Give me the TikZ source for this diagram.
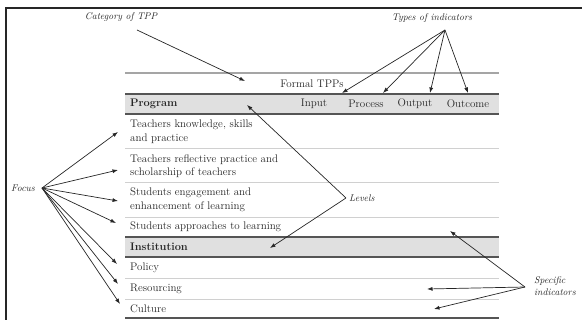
\documentclass[tikz,border=0pt]{standalone}
\usetikzlibrary{arrows.meta}
\definecolor{ink}{HTML}{262626}
\definecolor{band}{HTML}{E0E0E0}
\definecolor{rule}{HTML}{555555}
\definecolor{faint}{HTML}{D0D0D0}
\definecolor{topr}{HTML}{A5A5A5}
\begin{document}
\begin{tikzpicture}[x=1pt,y=-1pt,
  txt/.style={anchor=west,align=left,inner sep=0pt,text=ink,font=\fontsize{11}{13.5}\selectfont},
  hdr/.style={inner sep=0pt,text=ink,font=\fontsize{11}{13.5}\selectfont},
  lab/.style={inner sep=0pt,text=ink,font=\fontsize{9.7}{11.5}\selectfont\itshape},
  arr/.style={draw=ink,line width=0.7pt,-{Latex[length=5.5pt,width=4pt]}},
  darkrule/.style={draw=rule,line width=1.1pt},
  lightrule/.style={draw=faint,line width=0.6pt}]
\useasboundingbox (0,0) rectangle (582,320);
% frame
\draw[draw=ink,line width=1.2pt] (6,320) -- (6,8) -- (582,8);
% bands
\fill[band] (125,94) rectangle (499,114);
\fill[band] (125,237) rectangle (499,257);
% rules
\draw[draw=topr,line width=1.5pt] (125,73) -- (499,73);
\draw[darkrule] (125,94) -- (499,94);
\draw[darkrule] (125,114) -- (499,114);
\draw[lightrule] (125,148) -- (499,148);
\draw[lightrule] (125,182) -- (499,182);
\draw[lightrule] (125,217) -- (499,217);
\draw[darkrule] (125,237) -- (499,237);
\draw[darkrule] (125,257) -- (499,257);
\draw[lightrule] (125,278) -- (499,278);
\draw[lightrule] (125,299) -- (499,299);
\draw[darkrule] (125,318) -- (499,318);
% table text
\node[hdr] (formal) at (312,84) {Formal TPPs};
\node[txt,font=\fontsize{11}{13.5}\selectfont\bfseries] (program) at (130,104) {Program};
\node[hdr] (input) at (314,104) {Input};
\node[hdr] (process) at (366,104) {Process};
\node[hdr] (output) at (415,104) {Output};
\node[hdr] (outcome) at (468,104) {Outcome};
\node[txt] (r1) at (130,132) {Teachers knowledge, skills\\and practice};
\node[txt] (r2) at (130,166) {Teachers reflective practice and\\scholarship of teachers};
\node[txt] (r3) at (130,200) {Students engagement and\\enhancement of learning};
\node[txt] (r4) at (130,227) {Students approaches to learning};
\node[txt,font=\fontsize{11}{13.5}\selectfont\bfseries] (inst) at (130,247) {Institution};
\node[txt] (policy) at (130,268) {Policy};
\node[txt] (resourcing) at (130,289) {Resourcing};
\node[txt] (culture) at (130,309) {Culture};
% labels
\node[lab] (cat) at (121,17) {Category of TPP};
\node[lab] (types) at (432,18) {Types of indicators};
\node[lab,anchor=west] (levels) at (349,198) {Levels};
\node[lab,anchor=west] (focus) at (11,188) {Focus};
\node[lab,anchor=west,align=left] (spec) at (534,286) {Specific\\indicators};
% connector points
\coordinate (catS) at (137,30);
\coordinate (catE) at (245,81);
\coordinate (typS) at (445,30);
\coordinate (tInput) at (342,93);
\coordinate (tProcess) at (383,93);
\coordinate (tOutput) at (430,93);
\coordinate (tOutcome) at (468,93);
\coordinate (levS) at (346,198);
\coordinate (lProg) at (247,105);
\coordinate (lInst) at (270,248);
\coordinate (focS) at (42,188);
\coordinate (f1) at (118,132);
\coordinate (f2) at (118,170);
\coordinate (f3) at (118,201);
\coordinate (f4) at (116,223);
\coordinate (f5) at (117,264);
\coordinate (f6) at (118,284);
\coordinate (f7) at (120,304);
\coordinate (spS) at (525,287);
\coordinate (s1) at (450,231);
\coordinate (s2) at (427,289);
\coordinate (s3) at (434,309);
% arrows
\draw[arr] (catS) -- (catE);
\foreach \t in {tInput,tProcess,tOutput,tOutcome} \draw[arr] (typS) -- (\t);
\draw[arr] (levS) -- (lProg);
\draw[arr] (levS) -- (lInst);
\foreach \t in {f1,f2,f3,f4,f5,f6,f7} \draw[arr] (focS) -- (\t);
\foreach \t in {s1,s2,s3} \draw[arr] (spS) -- (\t);
\end{tikzpicture}
\end{document}
